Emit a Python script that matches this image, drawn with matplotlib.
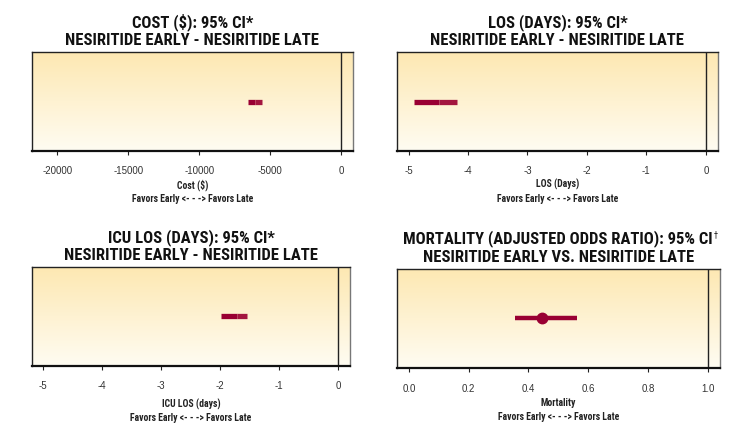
import numpy as np
import matplotlib
matplotlib.use('Agg')
import matplotlib.pyplot as plt
from matplotlib import font_manager as fm

# panel titles and axis labels
titles = ['COST (\\$): 95% CI*\nNESIRITIDE EARLY - NESIRITIDE LATE',
          'LOS (DAYS): 95% CI*\nNESIRITIDE EARLY - NESIRITIDE LATE',
          'ICU LOS (DAYS): 95% CI*\nNESIRITIDE EARLY - NESIRITIDE LATE',
          'MORTALITY (ADJUSTED ODDS RATIO): 95% CI\nNESIRITIDE EARLY VS. NESIRITIDE LATE']
xlabels = ['Cost (\\$)', 'LOS (Days)', 'ICU LOS (days)', 'Mortality']
favors = 'Favors Early <- - -> Favors Late'

# confidence intervals
ci_low = [-6540, -4.91, -1.99, 0.354]
ci_est = [-6100, -4.49, -1.72, 0.444]
ci_high = [-5590, -4.19, -1.54, 0.561]
ref_line = [0, 0, 0, 1.0]

xticks = [[-20000, -15000, -10000, -5000, 0],
          [-5, -4, -3, -2, -1, 0],
          [-5, -4, -3, -2, -1, 0],
          [0.0, 0.2, 0.4, 0.6, 0.8, 1.0]]
xtick_labels = [['-20000', '-15000', '-10000', '-5000', '0'],
                ['-5', '-4', '-3', '-2', '-1', '0'],
                ['-5', '-4', '-3', '-2', '-1', '0'],
                ['0.0', '0.2', '0.4', '0.6', '0.8', '1.0']]
xlims = [(-21805, 846), (-5.2, 0.21), (-5.19, 0.2), (-0.041, 1.04)]

# pick a condensed bold face for the titles
names = {f.name for f in fm.fontManager.ttflist}
cond = dict(family='DejaVu Sans')
for nm in ['Roboto Condensed', 'Open Sans Condensed', 'IBM Plex Sans Condensed',
           'Liberation Sans Narrow']:
    if nm in names:
        cond = dict(family=nm)
        break
tickfont = 'Liberation Sans' if 'Liberation Sans' in names else 'DejaVu Sans'

dark_red = '#990033'
light_red = '#A3163F'

# axes rectangles [left, bottom, width, height]
rects = [[0.0424, 0.643, 0.4296, 0.234],
         [0.5303, 0.643, 0.4300, 0.234],
         [0.0428, 0.1355, 0.4251, 0.2333],
         [0.5303, 0.1293, 0.4318, 0.2355]]
label_pads = [2, 2, 5.3, 3.5]

fig = plt.figure(figsize=(7.48, 4.23), dpi=100)
fig.patch.set_facecolor('white')

top = np.array([253, 232, 178]) / 255.0
bot = np.array([255, 252, 242]) / 255.0
t = np.linspace(0, 1, 256)[:, None]
grad = (top[None, :] * (1 - t) + bot[None, :] * t)[:, None, :]

axes = []
for i in range(4):
    ax = fig.add_axes(rects[i])
    axes.append(ax)
    ax.set_xlim(*xlims[i])
    ax.set_ylim(0, 1)
    ax.imshow(grad, extent=[0, 1, 0, 1], transform=ax.transAxes,
              aspect='auto', zorder=0)
    ax.axvline(ref_line[i], color='#222222', lw=1.0, zorder=2)
    if i < 3:
        ax.plot([ci_low[i], ci_est[i]], [0.5, 0.5], color=dark_red, lw=3.8,
                solid_capstyle='butt', zorder=3)
        ax.plot([ci_est[i], ci_high[i]], [0.5, 0.5], color=light_red, lw=3.8,
                solid_capstyle='butt', zorder=3)
    else:
        ax.plot([ci_low[i], ci_high[i]], [0.5, 0.5], color=dark_red, lw=3.2,
                solid_capstyle='butt', zorder=3)
        ax.plot([ci_est[i]], [0.5], 'o', color=dark_red, ms=7.5, zorder=4)
    ax.set_yticks([])
    ax.set_xticks(xticks[i])
    ax.set_xticklabels(xtick_labels[i], family=tickfont, fontsize=7,
                       color='#333333')
    ax.tick_params(axis='x', direction='out', length=3, width=0.8,
                   color='#222222', pad=8)
    for s in ['left', 'top', 'right']:
        ax.spines[s].set_linewidth(1.0)
        ax.spines[s].set_color('#222222')
    ax.spines['right'].set_color('#777777')
    ax.spines['bottom'].set_linewidth(1.6)
    ax.spines['bottom'].set_color('#111111')
    ax.set_title(titles[i], fontsize=12, fontweight='bold', linespacing=1.2,
                 pad=5, color='#111111', **cond)
    ax.set_xlabel(xlabels[i] + '\n' + favors, fontsize=7, fontweight='bold',
                  linespacing=1.4, labelpad=label_pads[i], color='#222222',
                  **cond)

# dagger after the mortality title
fig.canvas.draw()
bb = axes[3].title.get_window_extent(fig.canvas.get_renderer())
bb = bb.transformed(fig.transFigure.inverted())
fig.text(bb.x1 + 0.001, bb.y1 - 0.010, '\u2020', fontsize=5.5, color='#111111',
         ha='left', va='center')

fig.savefig('out.png', dpi=100)
